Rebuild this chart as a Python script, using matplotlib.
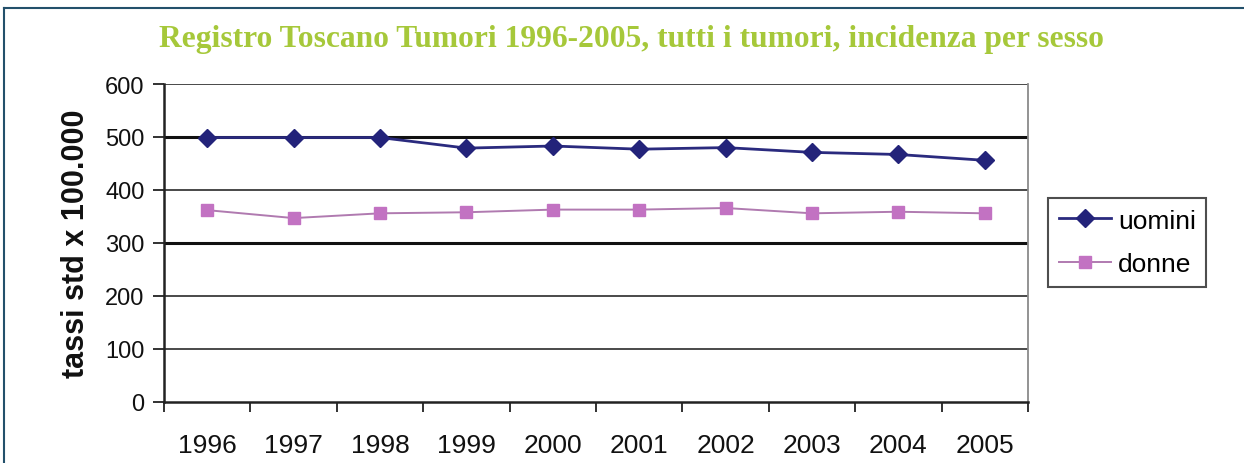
import matplotlib.pyplot as plt
from matplotlib.lines import Line2D
import numpy as np

years = ['1996', '1997', '1998', '1999', '2000', '2001', '2002', '2003', '2004', '2005']
uomini = [499, 499, 499, 479, 483, 477, 480, 471, 467, 456]
donne = [362, 347, 356, 358, 363, 363, 366, 356, 359, 356]
yticks = [0, 100, 200, 300, 400, 500, 600]

plt.rcParams['font.family'] = ['Liberation Sans', 'DejaVu Sans']

fig = plt.figure(figsize=(12.44, 4.64), dpi=100)
ax = fig.add_axes([164 / 1244, 1 - 403 / 464, 864 / 1244, 318 / 464])

x = np.arange(len(years))

# gridlines, 300 and 500 look heavier in the scan
for v in yticks[1:]:
    heavy = v in (300, 500)
    ax.axhline(v, color='#111111' if heavy else '#3a3a3a',
               lw=2.2 if heavy else 1.3, zorder=1)

ax.plot(x, uomini, color='#2a2a7e', lw=2, marker='D', ms=9,
        mfc='#23237a', mec='#23237a', label='uomini', zorder=3)
ax.plot(x, donne, color='#b07ab0', lw=1.4, marker='s', ms=9,
        mfc='#c272c2', mec='#c272c2', label='donne', zorder=3)

ax.set_xlim(-0.5, len(years) - 0.5)
ax.set_ylim(0, 600)
ax.set_yticks(yticks)
ax.set_yticklabels([str(v) for v in yticks], fontsize=17, color='#111111')
ax.set_xticks(x)
ax.set_xticklabels(years, fontsize=19, color='#111111')
ax.set_xticks(np.arange(-0.5, len(years)), minor=True)
ax.tick_params(axis='x', which='major', length=0, pad=22)
ax.tick_params(axis='x', which='minor', length=7, width=1.3, color='#222222')
ax.tick_params(axis='y', length=8, width=1.3, color='#222222', pad=6)

ax.spines['top'].set_visible(False)
ax.spines['left'].set_linewidth(1.8)
ax.spines['left'].set_color('#222222')
ax.spines['bottom'].set_linewidth(1.8)
ax.spines['bottom'].set_color('#222222')
ax.spines['right'].set_color('#8a8a8a')
ax.spines['right'].set_linewidth(1.3)

ax.set_ylabel('tassi std x 100.000', fontsize=22, fontweight='bold',
              color='#111111', labelpad=10)

leg = ax.legend(loc='upper left', bbox_to_anchor=(1048 / 1244, 1 - 199 / 464),
                bbox_transform=fig.transFigure, fontsize=19, frameon=True,
                fancybox=False, edgecolor='#222222', handlelength=2.0,
                handletextpad=0.25, borderpad=0.4, labelspacing=0.75,
                borderaxespad=0)
leg.get_frame().set_linewidth(1.5)

fig.text(0.508, 1 - 40 / 464, 'Registro Toscano Tumori 1996-2005, tutti i tumori, incidenza per sesso',
         ha='center', va='center', fontsize=22.7, fontweight='bold',
         family=['Liberation Serif', 'DejaVu Serif'], color='#a6c83a')

# outer frame of the page
fig.add_artist(Line2D([4 / 1244, 1], [1 - 9 / 464, 1 - 9 / 464],
                      transform=fig.transFigure, color='#23506b', lw=1.5))
fig.add_artist(Line2D([4 / 1244, 4 / 1244], [0, 1 - 9 / 464],
                      transform=fig.transFigure, color='#23506b', lw=1.5))

fig.savefig('out.png', dpi=100, facecolor='white')
